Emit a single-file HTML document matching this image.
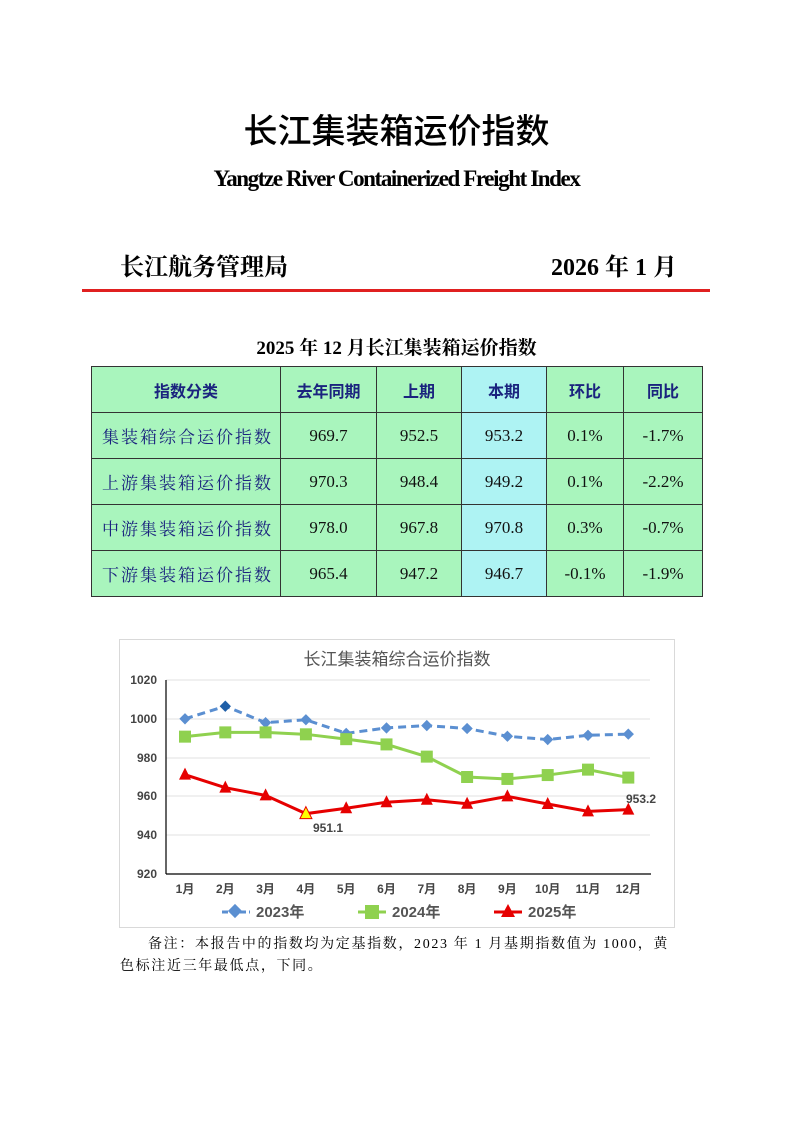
<!DOCTYPE html>
<html><head><meta charset="utf-8"><style>
body{margin:0;width:793px;height:1122px;background:#fff;position:relative;font-family:"Liberation Serif","Noto Serif CJK SC",serif;}
.a{position:absolute;white-space:nowrap;}
table{position:absolute;left:91px;top:366px;border-collapse:collapse;}
td{border:1px solid #333;background:#a9f5bd;text-align:center;height:45px;padding:0;font-size:17px;color:#111;}
tr.h td{color:#1a237e;font-weight:bold;font-family:"Noto Sans CJK SC",sans-serif;font-size:16px;}
td.n{text-align:left;padding-left:10px;color:#1a237e;font-family:"Noto Serif CJK SC",serif;letter-spacing:2px;}
td.c{background:#aef3f3;}
</style></head><body>
<div class="a" style="left:0;width:793px;text-align:center;top:104px;font-size:34px;font-family:'Noto Sans CJK SC',sans-serif;font-weight:500;">长江集装箱运价指数</div>
<div class="a" style="left:0;width:793px;text-align:center;top:166px;font-size:23px;font-weight:bold;letter-spacing:-1.4px;">Yangtze River Containerized Freight Index</div>
<div class="a" style="left:120px;top:247px;font-size:24px;font-weight:bold;font-family:'Noto Serif CJK SC',serif;">长江航务管理局</div>
<div class="a" style="left:551px;top:247px;font-size:24px;font-weight:bold;">2026 年 1 月</div>
<div class="a" style="left:82px;top:289px;width:628px;height:3px;background:#e02020;"></div>
<div class="a" style="left:0;width:793px;text-align:center;top:333px;font-size:19px;font-weight:bold;">2025 年 12 月长江集装箱运价指数</div>
<table>
<tr class="h"><td style="width:188px">指数分类</td><td style="width:95px">去年同期</td><td style="width:84px">上期</td><td class="c" style="width:84px">本期</td><td style="width:76px">环比</td><td style="width:78px">同比</td></tr>
<tr><td class="n">集装箱综合运价指数</td><td>969.7</td><td>952.5</td><td class="c">953.2</td><td>0.1%</td><td>-1.7%</td></tr>
<tr><td class="n">上游集装箱运价指数</td><td>970.3</td><td>948.4</td><td class="c">949.2</td><td>0.1%</td><td>-2.2%</td></tr>
<tr><td class="n">中游集装箱运价指数</td><td>978.0</td><td>967.8</td><td class="c">970.8</td><td>0.3%</td><td>-0.7%</td></tr>
<tr><td class="n">下游集装箱运价指数</td><td>965.4</td><td>947.2</td><td class="c">946.7</td><td>-0.1%</td><td>-1.9%</td></tr>
</table>
<svg class="a" style="left:0;top:0" width="793" height="1122" font-family="Liberation Sans,Noto Sans CJK SC,sans-serif">
<rect x="119.5" y="639.5" width="555" height="288" fill="#fff" stroke="#d9d9d9"/>
<text x="397" y="665" text-anchor="middle" font-size="17" fill="#555" font-family="Noto Sans CJK SC,sans-serif">长江集装箱综合运价指数</text>
<g stroke="#e0e0e0"><line x1="166" x2="650" y1="680" y2="680"/><line x1="166" x2="650" y1="719" y2="719"/><line x1="166" x2="650" y1="758" y2="758"/><line x1="166" x2="650" y1="796" y2="796"/><line x1="166" x2="650" y1="835" y2="835"/></g>
<g stroke="#000" stroke-width="1.2"><line x1="166" x2="166" y1="680" y2="874"/><line x1="166" x2="651" y1="874" y2="874"/></g>
<g font-size="12" font-weight="bold" fill="#444" text-anchor="end"><text x="157" y="684">1020</text><text x="157" y="723">1000</text><text x="157" y="762">980</text><text x="157" y="800">960</text><text x="157" y="839">940</text><text x="157" y="878">920</text></g>
<g id="lab" font-size="12" font-weight="bold" fill="#444" text-anchor="middle"></g>
<g font-size="15" font-weight="bold" fill="#555">
<line x1="222" x2="250" y1="912" y2="912" stroke="#5b8fd1" stroke-width="3" stroke-dasharray="6,3"/><rect x="230" y="906" width="10" height="10" fill="#5b8fd1" transform="rotate(45 235 911)"/><text x="256" y="917">2023年</text>
<line x1="358" x2="386" y1="912" y2="912" stroke="#8fd14f" stroke-width="3"/><rect x="365" y="905" width="14" height="14" fill="#8fd14f"/><text x="392" y="917">2024年</text>
<line x1="494" x2="522" y1="912" y2="912" stroke="#e60000" stroke-width="3"/><polygon points="508,904 515,917 501,917" fill="#e60000"/><text x="528" y="917">2025年</text>
</g>
<g id="s"></g>
<text x="313" y="832" font-size="12" font-weight="bold" fill="#444">951.1</text>
<text x="626" y="803" font-size="12" font-weight="bold" fill="#444">953.2</text>
</svg>
<div class="a" style="left:148px;top:933px;font-size:14px;letter-spacing:1.65px;">备注：本报告中的指数均为定基指数，2023 年 1 月基期指数值为 1000，黄</div>
<div class="a" style="left:120px;top:955px;font-size:14px;letter-spacing:1.65px;">色标注近三年最低点，下同。</div>
<script>
var X=i=>185+i*40.3, Y=v=>680+(1020-v)*1.94;
var d1=[1000,1006.5,998,999.5,992.5,995.3,996.5,995,991,989.3,991.5,992.1],
d2=[990.8,993,993,992,989.5,986.8,980.5,970,969,971,973.8,969.7],
d3=[971.2,964.5,960.5,951.1,953.9,957,958.3,956.2,960,956.1,952.3,953.2];
var s='',l='';
for(var i=0;i<12;i++)l+='<text x="'+X(i)+'" y="893">'+(i+1)+'月</text>';
function pts(d){return d.map((v,i)=>X(i)+','+Y(v)).join(' ');}
s+='<polyline points="'+pts(d1)+'" fill="none" stroke="#5b8fd1" stroke-width="3" stroke-dasharray="8,5"/>';
d1.forEach((v,i)=>{s+='<rect x="'+(X(i)-4)+'" y="'+(Y(v)-4)+'" width="8" height="8" fill="'+(i==1?'#1f5fa8':'#5b8fd1')+'" transform="rotate(45 '+X(i)+' '+Y(v)+')"/>';});
s+='<polyline points="'+pts(d2)+'" fill="none" stroke="#8fd14f" stroke-width="3"/>';
d2.forEach((v,i)=>{s+='<rect x="'+(X(i)-6)+'" y="'+(Y(v)-6)+'" width="12" height="12" fill="#8fd14f"/>';});
s+='<polyline points="'+pts(d3)+'" fill="none" stroke="#e60000" stroke-width="3"/>';
d3.forEach((v,i)=>{var x=X(i),y=Y(v);s+='<polygon points="'+x+','+(y-7)+' '+(x+6)+','+(y+5)+' '+(x-6)+','+(y+5)+'" fill="'+(i==3?'#ffff00':'#e60000')+'" stroke="'+(i==3?'#e60000':'none')+'"/>';});
document.getElementById('s').innerHTML=s;document.getElementById('lab').innerHTML=l;
</script>
</body></html>
